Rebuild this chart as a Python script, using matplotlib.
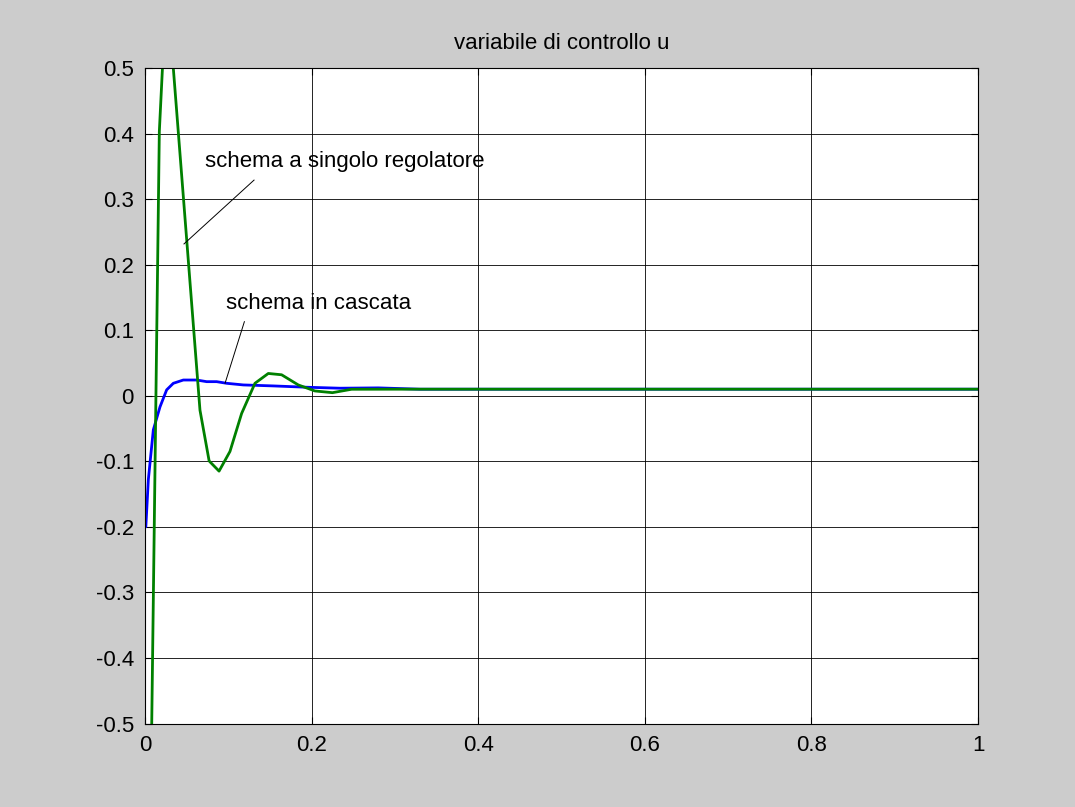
import matplotlib
matplotlib.use("Agg")
import matplotlib.pyplot as plt
import numpy as np

plt.rcParams['font.family'] = ['Liberation Sans', 'DejaVu Sans']

# schema in cascata (blu)
t_casc = [0.0, 0.001, 0.004, 0.010, 0.018, 0.026, 0.034, 0.046, 0.062, 0.074,
          0.086, 0.098, 0.118, 0.154, 0.194, 0.234, 0.28, 0.33, 0.5, 1.0]
u_casc = [-0.2, -0.2, -0.128, -0.052, -0.017, 0.009, 0.019, 0.024, 0.024, 0.0215,
          0.0215, 0.019, 0.0165, 0.015, 0.013, 0.0115, 0.012, 0.01, 0.01, 0.01]

# schema a singolo regolatore (verde)
t_sing = [0.0, 0.0172, 0.026, 0.066, 0.077, 0.0889, 0.102, 0.116, 0.132, 0.148,
          0.164, 0.184, 0.204, 0.225, 0.248, 0.3, 0.5, 1.0]
u_sing = [-1.3, 0.403, 0.63, -0.022, -0.0995, -0.115, -0.085, -0.027, 0.019, 0.034,
          0.032, 0.0165, 0.0073, 0.0047, 0.0099, 0.01, 0.01, 0.01]

xticks = [0, 0.2, 0.4, 0.6, 0.8, 1]
xlabels = ["0", "0.2", "0.4", "0.6", "0.8", "1"]
yticks = np.round(np.arange(-0.5, 0.51, 0.1), 1)
ylabels = ["0" if v == 0 else "%g" % v for v in yticks]

fig = plt.figure(figsize=(10.75, 8.07), dpi=100, facecolor='#cccccc')
ax = fig.add_axes([145/1075, 1 - 723.5/807, (978 - 145)/1075, (723.5 - 68)/807])
ax.set_facecolor('white')

ax.plot(t_casc, u_casc, color='#0000ff', lw=2)
ax.plot(t_sing, u_sing, color='#008000', lw=2)

ax.set_xlim(0, 1)
ax.set_ylim(-0.5, 0.5)
ax.set_xticks(xticks)
ax.set_xticklabels(xlabels)
ax.set_yticks(yticks)
ax.set_yticklabels(ylabels)
ax.grid(True, color='black', linestyle='-', linewidth=0.6)
ax.tick_params(direction='in', top=True, right=True, labelsize=16, length=5, pad=8)
for s in ax.spines.values():
    s.set_linewidth(0.8)

ax.set_title("variabile di controllo u", fontsize=16, pad=14)

ax.text(0.072, 0.349, "schema a singolo regolatore", fontsize=16, va='baseline')
ax.plot([0.1309, 0.0468], [0.329, 0.2316], color='black', lw=0.7)
ax.text(0.0973, 0.132, "schema in cascata", fontsize=16, va='baseline')
ax.plot([0.1193, 0.0961], [0.113, 0.019], color='black', lw=0.7)

fig.savefig("out.png", dpi=100, facecolor=fig.get_facecolor())
